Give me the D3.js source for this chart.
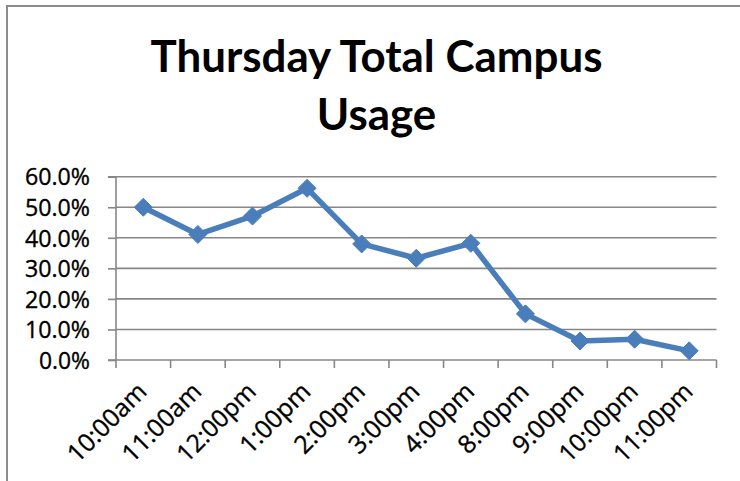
<!DOCTYPE html>
<html>
<head>
<meta charset="utf-8">
<script src="https://cdn.jsdelivr.net/npm/d3@7"></script>
<style>
html,body{margin:0;padding:0;background:#fff;}
svg{display:block;}
</style>
</head>
<body>
<script>
const categories = ["10:00am","11:00am","12:00pm","1:00pm","2:00pm","3:00pm","4:00pm","8:00pm","9:00pm","10:00pm","11:00pm"];
const usage = [0.500, 0.411, 0.471, 0.562, 0.380, 0.333, 0.382, 0.151, 0.062, 0.068, 0.030];
const yTicks = [0, 0.1, 0.2, 0.3, 0.4, 0.5, 0.6];
const titleLines = ["Thursday Total Campus", "Usage"];

(function(){
const W = 740, H = 481;
const svg = d3.select("body").append("svg").attr("width", W).attr("height", H);
const FONT = "'Open Sans', sans-serif";

// outer frame
svg.append("path").attr("d", `M7,${H} L7,6 L${W},6`).attr("fill","none").attr("stroke","#8c8c8c").attr("stroke-width",2);

const pL = 116, pR = 716.5, pT = 176.7, pB = 360;
const x = d3.scaleBand().domain(categories).range([pL, pR]);
const y = d3.scaleLinear().domain([0, 0.6]).range([pB, pT]);

// gridlines
svg.append("g").selectAll("line").data(yTicks.filter(d=>d>0)).join("line")
  .attr("x1", pL).attr("x2", pR).attr("y1", d=>y(d)).attr("y2", d=>y(d))
  .attr("stroke","#878787").attr("stroke-width",1.6);

// y axis
const yAxis = d3.axisLeft(y).tickValues(yTicks).tickFormat(d3.format(".1%")).tickSize(8).tickPadding(26);
const gy = svg.append("g").attr("transform",`translate(${pL},0)`).call(yAxis);
gy.select(".domain").attr("stroke","#878787").attr("stroke-width",1.6).attr("d",`M-8,${pT}H0V${pB}H-8`);
gy.selectAll(".tick line").attr("stroke","#878787").attr("stroke-width",1.6);
gy.selectAll(".tick text").attr("font-family",FONT).attr("font-size",23).attr("fill","#000")
  .attr("stroke","#000").attr("stroke-width",0.35)
  .attr("dy","0.36em").attr("text-anchor","start");
gy.selectAll(".tick text").each(function(){
  const n = this.textContent.length;
  const L = n === 4 ? 51 : 65;
  d3.select(this).attr("textLength", L).attr("lengthAdjust","spacingAndGlyphs").attr("x", -26 - L);
});

// x axis (ticks at band boundaries)
const gx = svg.append("g").attr("transform",`translate(0,${pB})`);
gx.append("line").attr("x1",pL).attr("x2",pR).attr("y1",0).attr("y2",0).attr("stroke","#878787").attr("stroke-width",1.6);
const bounds = categories.map(c=>x(c)).concat([x(categories[categories.length-1]) + x.bandwidth()]);
gx.selectAll("line.tk").data(bounds).join("line").attr("class","tk")
  .attr("x1",d=>d).attr("x2",d=>d).attr("y1",0).attr("y2",8)
  .attr("stroke","#878787").attr("stroke-width",1.6);
gx.selectAll("text").data(categories).join("text")
  .attr("transform", d=>`translate(${x(d)+x.bandwidth()/2+5},${33}) rotate(-45)`)
  .attr("text-anchor","end")
  .attr("font-family",FONT).attr("font-size",23).attr("fill","#000")
  .attr("stroke","#000").attr("stroke-width",0.35)
  .text(d=>d);

// line
const pts = categories.map((c,i)=>[x(c)+x.bandwidth()/2, y(usage[i])]);
svg.append("path").attr("d", d3.line()(pts)).attr("fill","none")
  .attr("stroke","#4a7ebb").attr("stroke-width",5.5).attr("stroke-linejoin","round");
const r = 9;
svg.append("g").selectAll("path").data(pts).join("path")
  .attr("d", d=>`M${d[0]},${d[1]-r} L${d[0]+r},${d[1]} L${d[0]},${d[1]+r} L${d[0]-r},${d[1]} Z`)
  .attr("fill","#4a7ebb").attr("stroke","#4a7ebb").attr("stroke-width",1);

// title
const tg = svg.append("g");
const t1 = tg.append("text").attr("x",376.5).attr("y",72).attr("text-anchor","middle")
  .attr("font-family","Lato, sans-serif").attr("font-weight","bold").attr("font-size",40).attr("fill","#000").text(titleLines[0]);
const w = t1.node().getComputedTextLength();
const fs = 40 * 452 / w;
t1.attr("font-size", fs);
tg.append("text").attr("x",376.5).attr("y",130).attr("text-anchor","middle")
  .attr("font-family","Lato, sans-serif").attr("font-weight","bold").attr("font-size",fs).attr("fill","#000").text(titleLines[1]);

// fit x labels to reference length
gx.selectAll("text").each(function(){
  const len = this.getComputedTextLength();
  const target = this.textContent.length === 7 ? 100 : 88;
  d3.select(this).attr("font-size", 23 * target / len);
});
})();
</script>
</body>
</html>
